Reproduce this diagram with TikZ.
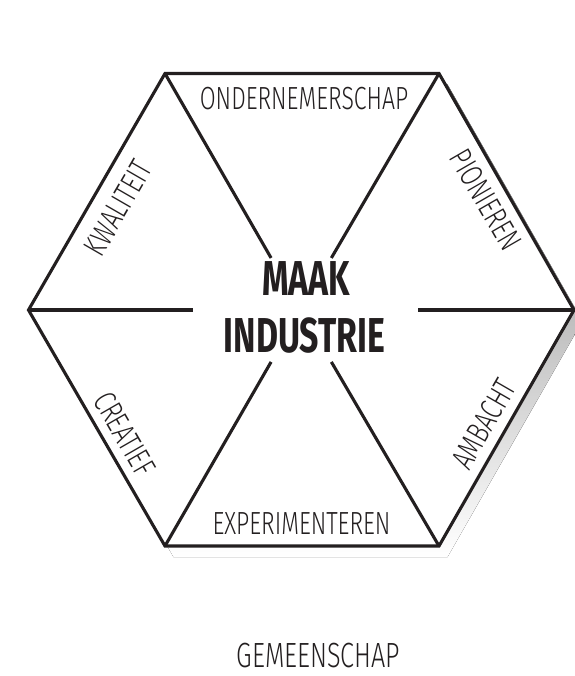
\documentclass[tikz,border=0pt]{standalone}
\usepackage{fontspec}
\usetikzlibrary{calc}
\newfontfamily\labelfont{Fira Sans Light}[FakeStretch=0.72]
\newfontfamily\titlefont{Fira Sans Bold}[FakeStretch=0.69]
\definecolor{ink}{HTML}{231F20}
\definecolor{shade}{HTML}{D4D4D4}
\begin{document}
\begin{tikzpicture}[x=1pt,y=-1pt,
  edge/.style={draw=ink,line width=3.1pt,line join=miter},
  spoke/.style={draw=ink,line width=3.1pt},
  lbl/.style={inner sep=0pt,text=ink,font=\labelfont\fontsize{32}{32}\selectfont},
  ttl/.style={inner sep=0pt,text=ink,font=\titlefont\fontsize{49}{49}\selectfont}]
\useasboundingbox (0,0) rectangle (574,676);
\fill[white] (0,0) rectangle (574,676);
% vertices
\coordinate (L)  at (28.5,310);
\coordinate (TL) at (165,73.5);
\coordinate (TR) at (439,73.5);
\coordinate (R)  at (574,310);
\coordinate (BR) at (439,546);
\coordinate (BL) at (165,546);
\coordinate (C)  at (301,310);
\coordinate (S) at (8.5,11);
% shadow
\fill[shade] ($(L)+(S)$) -- ($(TL)+(S)$) -- ($(TR)+(S)$) -- ($(R)+(S)$) -- ($(BR)+(S)$) -- ($(BL)+(S)$) -- cycle;
% hexagon
\filldraw[edge,fill=white] (L) -- (TL) -- (TR) -- (R) -- (BR) -- (BL) -- cycle;
% spokes
\draw[spoke] (TL) -- ($(TL)!0.78!(C)$);
\draw[spoke] (TR) -- ($(TR)!0.78!(C)$);
\draw[spoke] (BL) -- ($(BL)!0.78!(C)$);
\draw[spoke] (BR) -- ($(BR)!0.78!(C)$);
\coordinate (Le) at (193,310);
\coordinate (Re) at (418,310);
\draw[spoke] (L) -- (Le);
\draw[spoke] (R) -- (Re);
% labels
\node[lbl] (ond) at (304,99) {ONDERNEMERSCHAP};
\node[lbl,rotate=-60] (pio) at (486,200) {PIONIEREN};
\node[lbl,rotate=60] (amb) at (484,424) {AMBACHT};
\node[lbl] (exp) at (301.5,524) {EXPERIMENTEREN};
\node[lbl,rotate=-60] (cre) at (125,434) {CREATIEF};
\node[lbl,rotate=60] (kwa) at (118,208) {KWALITEIT};
\node[ttl] (maak) at (306,279) {MAAK};
\node[ttl] (ind) at (304.5,336) {INDUSTRIE};
\node[lbl,font=\labelfont\fontsize{35}{35}\selectfont] (gem) at (318.5,655.5) {GEMEENSCHAP};
\end{tikzpicture}
\end{document}
